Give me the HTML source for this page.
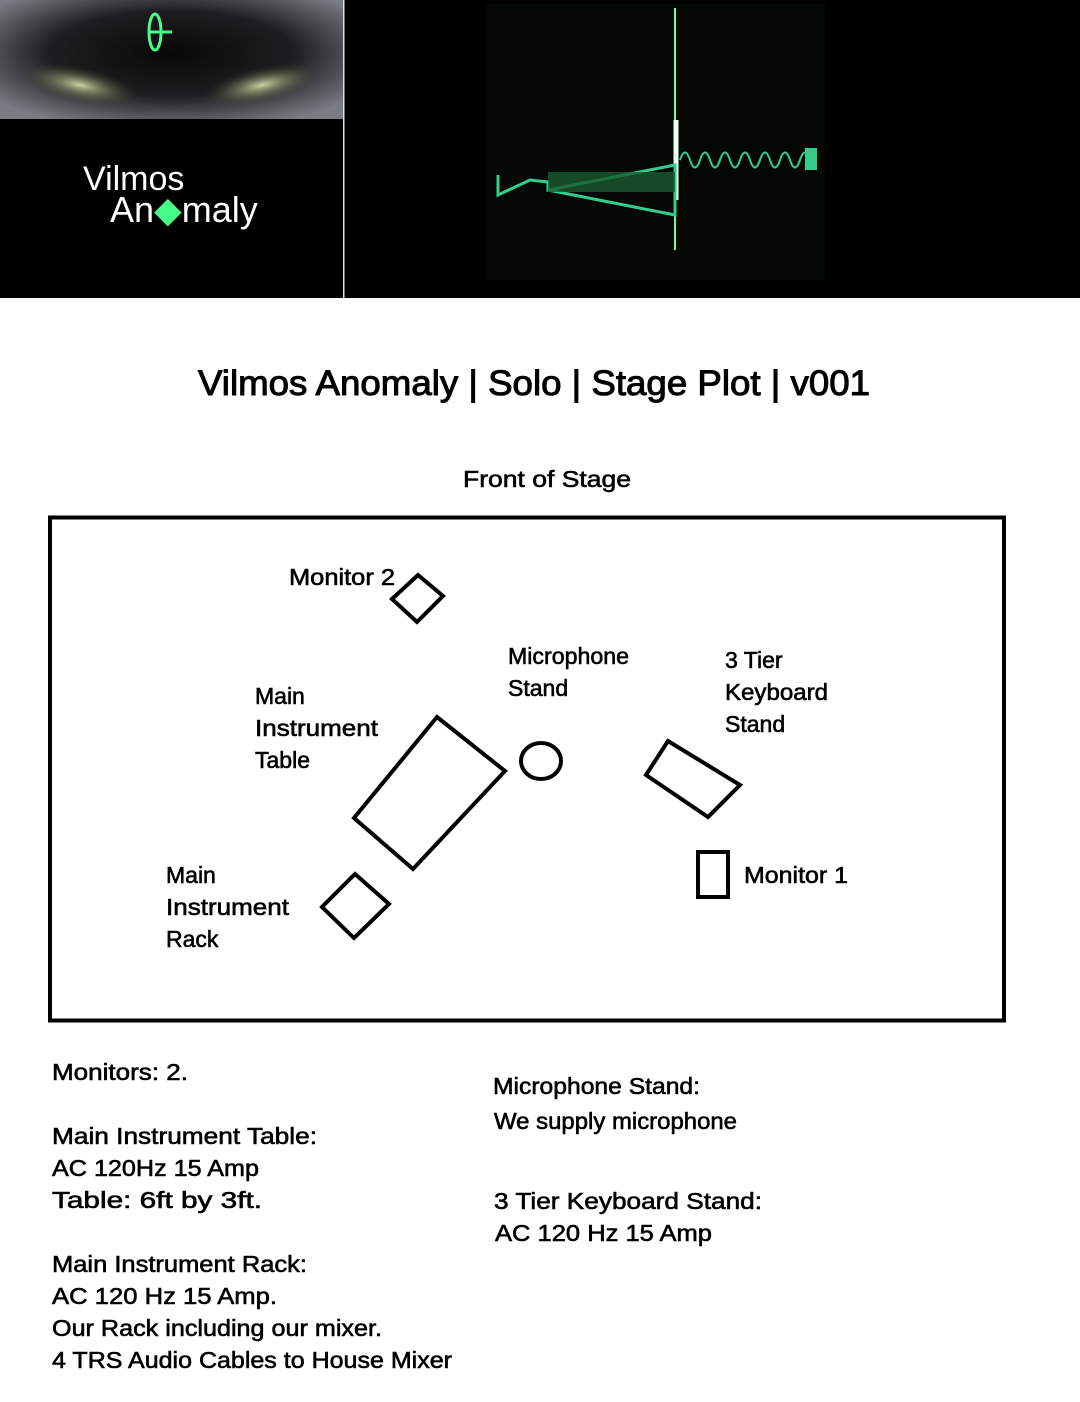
<!DOCTYPE html>
<html><head><meta charset="utf-8"><style>
html,body{margin:0;padding:0;background:#fff;width:1080px;height:1402px;overflow:hidden}
svg{display:block}
text{font-family:"Liberation Sans",sans-serif;fill:#000}
g.t text,text.t{stroke:#000;stroke-width:0.6}
</style></head><body>
<svg width="1080" height="1402" viewBox="0 0 1080 1402" xmlns="http://www.w3.org/2000/svg">
<defs>
<radialGradient id="cat" cx="50%" cy="45%" r="65%"><stop offset="0" stop-color="#080808"/><stop offset="0.55" stop-color="#1e1e20"/><stop offset="1" stop-color="#7a7c84"/></radialGradient>
<radialGradient id="eye" cx="50%" cy="50%" r="50%"><stop offset="0" stop-color="#c9d6a0"/><stop offset="1" stop-color="#3a4030" stop-opacity="0"/></radialGradient>
</defs>
<rect x="0" y="0" width="1080" height="298" fill="#000"/>
<rect x="0" y="0" width="343" height="119" fill="url(#cat)"/>
<ellipse cx="80" cy="85" rx="60" ry="18" fill="url(#eye)" transform="rotate(12 80 85)"/>
<ellipse cx="262" cy="85" rx="60" ry="18" fill="url(#eye)" transform="rotate(-12 262 85)"/>
<ellipse cx="155" cy="32" rx="6" ry="18" fill="none" stroke="#4f8" stroke-width="3"/>
<line x1="150" y1="32" x2="172" y2="32" stroke="#4f8" stroke-width="3"/>
<rect x="343" y="0" width="1.5" height="298" fill="#ddd"/>
<text x="83" y="190" font-size="34" style="fill:#fff">Vilmos</text>
<text x="110" y="222" font-size="36" style="fill:#fff">An<tspan style="fill:#4f8">◆</tspan>maly</text>
<rect x="485" y="4" width="340" height="276" fill="#040805"/>
<line x1="675" y1="8" x2="675" y2="250" stroke="#6f9" stroke-width="2"/>
<line x1="676" y1="120" x2="676" y2="200" stroke="#efe" stroke-width="5"/>
<polyline points="498,175 498,195 530,180 548,182 548,190 675,165 675,215 548,190" fill="none" stroke="#3c8" stroke-width="3"/>
<rect x="548" y="172" width="127" height="20" fill="#1a5a30" opacity="0.8"/>
<path d="M680 160 q5 -15 10 0 q5 15 10 0 q5 -15 10 0 q5 15 10 0 q5 -15 10 0 q5 15 10 0 q5 -15 10 0 q5 15 10 0 q5 -15 10 0 q5 15 10 0 q5 -15 10 0 q5 15 10 0 q5 -15 10 0" fill="none" stroke="#3c8" stroke-width="2"/>
<rect x="805" y="148" width="12" height="22" fill="#3c8"/>

<text class="t" x="198" y="395" font-size="35" textLength="672" lengthAdjust="spacingAndGlyphs" style="stroke-width:1">Vilmos Anomaly | Solo | Stage Plot | v001</text>
<text class="t" x="463" y="487" font-size="23" textLength="168" lengthAdjust="spacingAndGlyphs">Front of Stage</text>

<rect x="50" y="517.5" width="954" height="503" fill="none" stroke="#000" stroke-width="4"/>
<g fill="none" stroke="#000" stroke-width="4" stroke-linejoin="miter">
<polygon points="392,599 418,575 443,596 417,622"/>
<polygon points="437,717 505,771 413,869 354,818"/>
<ellipse cx="541" cy="761" rx="20" ry="18"/>
<polygon points="668,741 740,785 708,817 646,775"/>
<rect x="698" y="852" width="30" height="45"/>
<polygon points="355,874 389,904 354,938 322,907"/>
</g>
<g class="t" font-size="23">
<text x="289" y="585" textLength="106" lengthAdjust="spacingAndGlyphs">Monitor 2</text>
<text x="508" y="664" textLength="121" lengthAdjust="spacingAndGlyphs">Microphone</text>
<text x="508" y="696">Stand</text>
<text x="725" y="668">3 Tier</text>
<text x="725" y="700" textLength="103" lengthAdjust="spacingAndGlyphs">Keyboard</text>
<text x="725" y="732">Stand</text>
<text x="255" y="704">Main</text>
<text x="255" y="736" textLength="123" lengthAdjust="spacingAndGlyphs">Instrument</text>
<text x="255" y="768">Table</text>
<text x="166" y="883">Main</text>
<text x="166" y="915" textLength="123" lengthAdjust="spacingAndGlyphs">Instrument</text>
<text x="166" y="947">Rack</text>
<text x="744" y="883" textLength="104" lengthAdjust="spacingAndGlyphs">Monitor 1</text>
</g>
<g class="t" font-size="23">
<text x="52" y="1080" textLength="136" lengthAdjust="spacingAndGlyphs">Monitors: 2.</text>
<text x="52" y="1144" textLength="265" lengthAdjust="spacingAndGlyphs">Main Instrument Table:</text>
<text x="52" y="1176" textLength="207" lengthAdjust="spacingAndGlyphs">AC 120Hz 15 Amp</text>
<text x="52" y="1208" textLength="210" lengthAdjust="spacingAndGlyphs">Table: 6ft by 3ft.</text>
<text x="52" y="1272" textLength="255" lengthAdjust="spacingAndGlyphs">Main Instrument Rack:</text>
<text x="52" y="1304" textLength="225" lengthAdjust="spacingAndGlyphs">AC 120 Hz 15 Amp.</text>
<text x="52" y="1336" textLength="330" lengthAdjust="spacingAndGlyphs">Our Rack including our mixer.</text>
<text x="52" y="1368" textLength="400" lengthAdjust="spacingAndGlyphs">4 TRS Audio Cables to House Mixer</text>
<text x="493" y="1094" textLength="207" lengthAdjust="spacingAndGlyphs">Microphone Stand:</text>
<text x="494" y="1129" textLength="243" lengthAdjust="spacingAndGlyphs">We supply microphone</text>
<text x="494" y="1209" textLength="268" lengthAdjust="spacingAndGlyphs">3 Tier Keyboard Stand:</text>
<text x="495" y="1241" textLength="217" lengthAdjust="spacingAndGlyphs">AC 120 Hz 15 Amp</text>
</g>
</svg>
</body></html>
